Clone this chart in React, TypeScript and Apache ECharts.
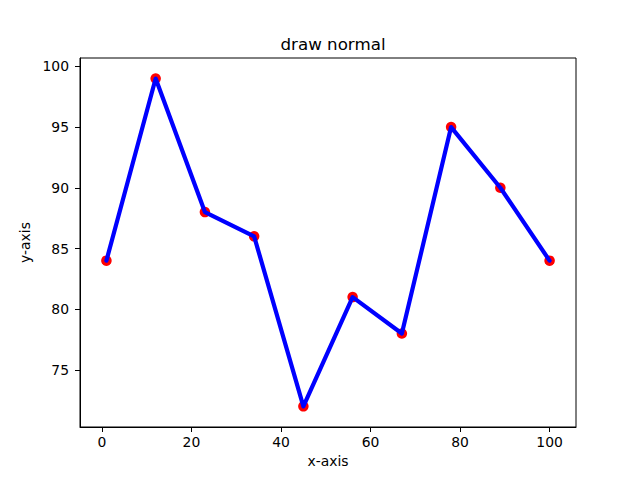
import React, { useEffect, useRef } from "react";
import * as echarts from "echarts";

const xValues = [1, 12, 23, 34, 45, 56, 67, 78, 89, 100];
const yValues = [84, 99, 88, 86, 72, 81, 78, 95, 90, 84];
const xTicks = [0, 20, 40, 60, 80, 100];
const yTicks = [75, 80, 85, 90, 95, 100];

const FONT = "DejaVu Sans";

export default function App() {
  const ref = useRef<HTMLDivElement>(null);
  useEffect(() => {
    if (!ref.current) return;
    const chart = echarts.init(ref.current, null, { renderer: "svg" });
    const pts = xValues.map((x, i) => [x, yValues[i]]);
    chart.setOption({
      animation: false,
      backgroundColor: "#ffffff",
      title: {
        text: "draw normal",
        left: 328,
        textAlign: "center",
        top: 30,
        textStyle: { fontFamily: FONT, fontSize: 16.7, fontWeight: "normal", color: "#000" },
      },
      grid: {
        left: 80,
        top: 58,
        width: 496,
        height: 369,
        show: true,
        borderColor: "#000",
        borderWidth: 1,
        backgroundColor: "transparent",
      },
      xAxis: {
        type: "value",
        min: -4.9,
        max: 105.9,
        name: "x-axis",
        nameLocation: "middle",
        nameGap: 27,
        nameTextStyle: { fontFamily: FONT, fontSize: 13.9, color: "#000", verticalAlign: "top" },
        axisLine: { show: true, onZero: false, lineStyle: { color: "#000", width: 1 } },
        axisTick: { show: true, length: 5, customValues: xTicks, lineStyle: { color: "#000" } },
        axisLabel: {
          customValues: xTicks,
          margin: 8,
          fontFamily: FONT,
          fontSize: 13.9,
          color: "#000",
        },
        splitLine: { show: false },
      },
      yAxis: {
        type: "value",
        min: 70.3,
        max: 100.69,
        name: "y-axis",
        nameLocation: "middle",
        nameGap: 45,
        nameRotate: 90,
        nameTextStyle: { fontFamily: FONT, fontSize: 13.9, color: "#000" },
        axisLine: { show: true, onZero: false, lineStyle: { color: "#000", width: 1 } },
        axisTick: { show: true, length: 5, customValues: yTicks, lineStyle: { color: "#000" } },
        axisLabel: {
          customValues: yTicks,
          margin: 11,
          fontFamily: FONT,
          fontSize: 13.9,
          color: "#000",
        },
        splitLine: { show: false },
      },
      series: [
        {
          type: "scatter",
          data: pts,
          symbol: "circle",
          symbolSize: 10.5,
          itemStyle: { color: "#ff0000", opacity: 1 },
          z: 1,
        },
        {
          type: "line",
          data: pts,
          showSymbol: false,
          symbol: "none",
          lineStyle: { color: "#0000ff", width: 4.2, join: "round", cap: "round" },
          z: 2,
        },
      ],
    });
    return () => chart.dispose();
  }, []);
  return (
    <div
      ref={ref}
      style={{ position: "absolute", left: 0, top: 0, width: 640, height: 480 }}
    />
  );
}
